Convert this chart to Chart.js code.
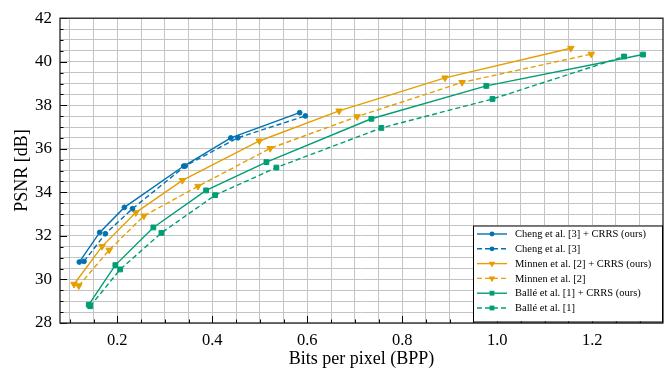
<!DOCTYPE html>
<html>
<head>
<meta charset="utf-8">
<script src="https://cdn.jsdelivr.net/npm/chart.js@4.4.1/dist/chart.umd.min.js"></script>
<style>
    html, body { margin: 0; padding: 0; background: #fff; }
    #wrap { width: 668px; height: 373px; }
</style>
</head>
<body>
<div id="wrap"><canvas id="rdChart" width="668" height="373"></canvas></div>
<script>
// Rate-distortion points (BPP, PSNR)
const chengOursBpp   = [0.120, 0.163, 0.215, 0.340, 0.439, 0.584];
const chengOursPsnr  = [30.80, 32.16, 33.31, 35.21, 36.50, 37.66];
const chengBpp       = [0.130, 0.175, 0.232, 0.343, 0.454, 0.596];
const chengPsnr      = [30.83, 32.10, 33.25, 35.21, 36.51, 37.51];
const minnenOursBpp  = [0.109, 0.168, 0.239, 0.337, 0.499, 0.667, 0.890, 1.155];
const minnenOursPsnr = [29.78, 31.52, 33.07, 34.55, 36.36, 37.74, 39.26, 40.62];
const minnenBpp      = [0.119, 0.183, 0.256, 0.370, 0.522, 0.705, 0.926, 1.198];
const minnenPsnr     = [29.71, 31.35, 32.92, 34.28, 36.02, 37.48, 39.05, 40.35];
const balleOursBpp   = [0.140, 0.196, 0.276, 0.387, 0.514, 0.735, 0.977, 1.307];
const balleOursPsnr  = [28.84, 30.66, 32.39, 34.09, 35.39, 37.38, 38.89, 40.33];
const balleBpp       = [0.143, 0.206, 0.293, 0.406, 0.535, 0.756, 0.990, 1.267];
const ballePsnr      = [28.77, 30.46, 32.14, 33.87, 35.14, 36.96, 38.29, 40.24];

const seriesLabels = [
    'Cheng et al. [3] + CRRS (ours)',
    'Cheng et al. [3]',
    'Minnen et al. [2] + CRRS (ours)',
    'Minnen et al. [2]',
    'Ballé et al. [1] + CRRS (ours)',
    'Ballé et al. [1]'
];

// Axis ticks
const xTickLabels = [0.2, 0.4, 0.6, 0.8, 1.0, 1.2];
const yTickLabels = [28, 30, 32, 34, 36, 38, 40, 42];
const xMinorStep = 0.05;
const yMinorStep = 0.5;
const xRange = [0.0794, 1.349];
const yRange = [28, 42];

const BLUE = '#0072B2';
const ORANGE = '#E69F00';
const GREEN = '#009E73';
const SERIF = '"Liberation Serif", "Times New Roman", serif';

function toPoints(xs, ys) {
    return xs.map((x, i) => ({ x: x, y: ys[i] }));
}

function makeSeries(label, xs, ys, color, dashed, marker) {
    return {
        label: label,
        data: toPoints(xs, ys),
        borderColor: color,
        backgroundColor: color,
        borderWidth: 1.4,
        borderDash: dashed ? [5, 3] : [],
        pointStyle: marker.style,
        pointRadius: marker.radius,
        pointRotation: marker.rotation || 0,
        pointBackgroundColor: color,
        pointBorderColor: color,
        pointBorderWidth: 1,
        tension: 0,
        fill: false
    };
}

const circle = { style: 'circle', radius: 2.4 };
const tri = { style: 'triangle', radius: 3.8, rotation: 180 };
const square = { style: 'rect', radius: 3.4 };

const datasets = [
    makeSeries(seriesLabels[0], chengOursBpp, chengOursPsnr, BLUE, false, circle),
    makeSeries(seriesLabels[1], chengBpp, chengPsnr, BLUE, true, circle),
    makeSeries(seriesLabels[2], minnenOursBpp, minnenOursPsnr, ORANGE, false, tri),
    makeSeries(seriesLabels[3], minnenBpp, minnenPsnr, ORANGE, true, tri),
    makeSeries(seriesLabels[4], balleOursBpp, balleOursPsnr, GREEN, false, square),
    makeSeries(seriesLabels[5], balleBpp, ballePsnr, GREEN, true, square)
];

function isLabelled(v, list) {
    return list.some(t => Math.abs(t - v) < 1e-6);
}

// Draw a legend marker by hand (circle / down triangle / square)
function drawMarker(ctx, ds, x, y) {
    const r = ds.pointRadius;
    ctx.beginPath();
    if (ds.pointStyle === 'circle') {
        ctx.arc(x, y, r, 0, Math.PI * 2);
    } else if (ds.pointStyle === 'triangle') {
        const w = r * Math.sqrt(3) / 2;
        ctx.moveTo(x, y + r);
        ctx.lineTo(x - w, y - r / 2);
        ctx.lineTo(x + w, y - r / 2);
        ctx.closePath();
    } else {
        const s = r * Math.SQRT1_2;
        ctx.rect(x - s, y - s, 2 * s, 2 * s);
    }
    ctx.fillStyle = ds.pointBackgroundColor;
    ctx.fill();
}

// Frame, inward ticks and a line+marker legend
const framePlugin = {
    id: 'frameAndLegend',
    afterDraw(chart) {
        const ctx = chart.ctx;
        const area = chart.chartArea;
        const xs = chart.scales.x;
        const ys = chart.scales.y;
        ctx.save();

        // inward ticks on left and bottom
        ctx.strokeStyle = '#000';
        ctx.lineWidth = 1;
        for (let v = yRange[0]; v <= yRange[1] + 1e-9; v += yMinorStep) {
            const py = Math.round(ys.getPixelForValue(v)) + 0.5;
            const len = isLabelled(v, yTickLabels) ? 7 : 3.5;
            ctx.beginPath();
            ctx.moveTo(area.left, py);
            ctx.lineTo(area.left + len, py);
            ctx.stroke();
        }
        for (let v = 0.1; v <= xRange[1]; v += xMinorStep) {
            const px = Math.round(xs.getPixelForValue(v)) + 0.5;
            const len = isLabelled(Math.round(v * 100) / 100, xTickLabels) ? 7 : 3.5;
            ctx.beginPath();
            ctx.moveTo(px, area.bottom);
            ctx.lineTo(px, area.bottom - len);
            ctx.stroke();
        }

        // plot frame
        ctx.lineWidth = 1.3;
        ctx.strokeStyle = '#222';
        ctx.strokeRect(area.left, area.top, area.right - area.left, area.bottom - area.top);

        // legend box in the lower right corner
        const boxW = 189, boxH = 96;
        const bx = area.right - 1 - boxW;
        const by = area.bottom - 1.5 - boxH;
        ctx.fillStyle = '#fff';
        ctx.fillRect(bx, by, boxW, boxH);
        ctx.lineWidth = 1;
        ctx.strokeStyle = '#000';
        ctx.strokeRect(bx + 0.5, by + 0.5, boxW, boxH);

        ctx.font = '10.5px ' + SERIF;
        ctx.textBaseline = 'middle';
        chart.data.datasets.forEach((ds, i) => {
            const rowY = by + 8.5 + i * 14.8;
            const x0 = bx + 4, x1 = bx + 34;
            ctx.strokeStyle = ds.borderColor;
            ctx.lineWidth = ds.borderWidth;
            ctx.setLineDash(ds.borderDash);
            ctx.beginPath();
            ctx.moveTo(x0, rowY);
            ctx.lineTo(x1, rowY);
            ctx.stroke();
            ctx.setLineDash([]);
            drawMarker(ctx, ds, (x0 + x1) / 2, rowY);
            ctx.fillStyle = '#000';
            ctx.fillText(ds.label, bx + 42, rowY + 0.5);
        });

        ctx.restore();
    }
};

Chart.defaults.color = '#000';
Chart.defaults.font.family = SERIF;

const chartCtx = document.getElementById('rdChart').getContext('2d');
new Chart(chartCtx, {
    type: 'line',
    data: { datasets: datasets },
    options: {
        responsive: false,
        animation: false,
        devicePixelRatio: 1,
        layout: {
            padding: { top: 11, right: 5, left: 0, bottom: 0 }
        },
        plugins: {
            legend: { display: false },
            tooltip: { enabled: false }
        },
        scales: {
            x: {
                type: 'linear',
                min: xRange[0],
                max: xRange[1],
                afterBuildTicks: function(scale) {
                    const ticks = [];
                    for (let v = 0.1; v <= xRange[1]; v += xMinorStep) {
                        ticks.push({ value: Math.round(v * 100) / 100 });
                    }
                    scale.ticks = ticks;
                },
                afterFit: function(scale) { scale.height = 50; },
                grid: { color: '#c4c4c4', lineWidth: 1, drawTicks: false },
                border: { display: false },
                ticks: {
                    autoSkip: false,
                    maxRotation: 0,
                    padding: 8,
                    font: { size: 16.5 },
                    callback: function(v) {
                        return isLabelled(v, xTickLabels) ? v.toFixed(1) : '';
                    }
                },
                title: {
                    display: true,
                    text: 'Bits per pixel (BPP)',
                    font: { size: 18 },
                    padding: { top: 0, bottom: 3 }
                }
            },
            y: {
                type: 'linear',
                min: yRange[0],
                max: yRange[1],
                afterFit: function(scale) { scale.width = 60; },
                grid: { color: '#c4c4c4', lineWidth: 1, drawTicks: false },
                border: { display: false },
                ticks: {
                    stepSize: yMinorStep,
                    autoSkip: false,
                    padding: 8,
                    font: { size: 17 },
                    callback: function(v) {
                        return isLabelled(v, yTickLabels) ? String(v) : '';
                    }
                },
                title: {
                    display: true,
                    text: 'PSNR [dB]',
                    font: { size: 18 },
                    padding: { top: 11, bottom: 0 }
                }
            }
        }
    },
    plugins: [framePlugin]
});
</script>
</body>
</html>
